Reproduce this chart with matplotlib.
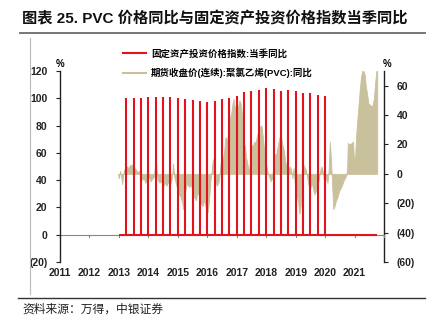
import matplotlib
matplotlib.use("Agg")
import matplotlib.pyplot as plt
import matplotlib.transforms as mtransforms
from matplotlib.lines import Line2D

plt.rcParams['font.family'] = ['Liberation Sans', 'Noto Sans CJK SC', 'DejaVu Sans']

# fixed-asset investment price index, YoY by quarter (previous year = 100)
fai_years = [2013] * 4 + [2014] * 4 + [2015] * 4 + [2016] * 4 + [2017] * 4 + [2018] * 4 + [2019] * 4
fai_quarters = [1, 2, 3, 4] * 7
fai_values = [100.4, 100.0, 100.4, 101.2, 101.2, 100.7, 100.7, 100.0,
              99.5, 98.5, 98.0, 97.3, 97.8, 99.5, 100.2, 101.7,
              104.6, 105.1, 106.1, 107.6, 106.6, 105.4, 105.9, 105.1,
              103.9, 103.6, 102.4, 101.5]
fai_line_start = 2013.0
fai_line_end = 2021.77

# PVC futures close (continuous), YoY %
pvc_t = [2012.97, 2013.00, 2013.04, 2013.08, 2013.11, 2013.14, 2013.18, 2013.22, 2013.27, 2013.32,
         2013.38, 2013.45, 2013.52, 2013.58, 2013.63, 2013.68, 2013.72, 2013.78, 2013.84, 2013.90,
         2013.96, 2014.02, 2014.08, 2014.14, 2014.19, 2014.22, 2014.25, 2014.28, 2014.32, 2014.38,
         2014.44, 2014.50, 2014.56, 2014.62, 2014.68, 2014.74, 2014.80, 2014.84, 2014.88, 2014.93,
         2014.98, 2015.04, 2015.10, 2015.15, 2015.18, 2015.22, 2015.27, 2015.32, 2015.38, 2015.44,
         2015.50, 2015.56, 2015.62, 2015.66, 2015.72, 2015.78, 2015.84, 2015.90, 2015.96, 2016.02,
         2016.07, 2016.11, 2016.15, 2016.19, 2016.22, 2016.27, 2016.32, 2016.38, 2016.43, 2016.47,
         2016.52, 2016.57, 2016.62, 2016.67, 2016.72, 2016.77, 2016.82, 2016.86, 2016.89, 2016.93,
         2016.97, 2017.01, 2017.05, 2017.09, 2017.13, 2017.17, 2017.20, 2017.24, 2017.28, 2017.32,
         2017.37, 2017.42, 2017.46, 2017.50, 2017.54, 2017.59, 2017.64, 2017.69, 2017.74, 2017.79,
         2017.84, 2017.88, 2017.92, 2017.96, 2018.00, 2018.05, 2018.10, 2018.15, 2018.20, 2018.25,
         2018.30, 2018.35, 2018.40, 2018.45, 2018.50, 2018.55, 2018.60, 2018.65, 2018.70, 2018.75,
         2018.80, 2018.85, 2018.89, 2018.93, 2018.97, 2019.01, 2019.05, 2019.09, 2019.13, 2019.17,
         2019.21, 2019.25, 2019.29, 2019.34, 2019.39, 2019.44, 2019.49, 2019.54, 2019.58, 2019.63,
         2019.68, 2019.73, 2019.78, 2019.83, 2019.87, 2019.91, 2019.95, 2019.99, 2020.03, 2020.08,
         2020.12, 2020.16, 2020.20, 2020.24, 2020.28, 2020.32, 2020.37, 2020.42, 2020.47, 2020.52,
         2020.57, 2020.62, 2020.67, 2020.72, 2020.75, 2020.77, 2020.84, 2020.90, 2020.95, 2020.98,
         2021.02, 2021.06, 2021.10, 2021.14, 2021.18, 2021.22, 2021.26, 2021.30, 2021.34, 2021.38,
         2021.42, 2021.47, 2021.52, 2021.57, 2021.62, 2021.66, 2021.70, 2021.74, 2021.77]
pvc_v = [0, -3, 2, -2, -7, -1, 3, 2, 5, 4,
         6, 6, 4, 3, 1, 2, -2, -4, -3, -6,
         -4, -2, -5, -3, -2, 5, 12, 2, -4, -6,
         -5, -9, -6, -8, -5, -7, -3, 7, -2, -6,
         -10, -14, -16, -20, -24, -16, -10, -6, -9, -7,
         -12, -16, -18, -12, -15, -20, -22, -18, -24, -26,
         -15, -4, 2, 10, 3, -4, -8, -6, 2, 10,
         8, 15, 25, 22, 30, 38, 42, 48, 51, 44,
         47, 44, 46, 50, 48, 42, 30, 22, 18, 11,
         6, 2, 8, 20, 18, 22, 21, 26, 30, 32,
         33, 26, 18, 10, 6, 1, -2, -5, -3, 6,
         13, 14, 20, 25, 26, 20, 16, 8, 4, 2,
         5, 3, -3, 4, -6, -12, -16, -20, -27, -22,
         2, 7, 5, 3, -2, -8, -10, -6, -9, -14,
         -12, -10, -4, 2, 5, 3, -3, -5, -3, -6,
         2, 22, 10, -8, -24, -22, -18, -16, -12, -10,
         -8, -5, -3, -1, 4, 21, 20, 21, 22, 9,
         12, 28, 38, 48, 58, 66, 70, 70, 68, 60,
         55, 48, 47, 46, 47, 52, 62, 70, 70]

year_labels = list(range(2011, 2022))

red = '#E2131C'
tan = '#C9C09C'

fig = plt.figure(figsize=(4.35, 3.32), dpi=100)
ax = fig.add_axes([60 / 435, 1 - 262 / 332, 324 / 435, 191 / 332])
ax2 = ax.twinx()
ax.set_zorder(ax2.get_zorder() + 1)
ax.patch.set_visible(False)

# PVC area on the right axis
ax2.fill_between(pvc_t, 0, pvc_v, color=tan, linewidth=0.6, edgecolor=tan)
ax2.set_ylim(-60, 70)
ax2.set_yticks(range(-60, 61, 20))
ax2.set_yticklabels([f'({-v})' if v < 0 else str(v) for v in range(-60, 61, 20)])

# quarterly index drawn as spikes on the left axis
fai_x = [y + q / 4 for y, q in zip(fai_years, fai_quarters)]
ax.axhline(0, color='#888888', linewidth=0.8, zorder=1)
ax.hlines(0, fai_line_start, fai_line_end, color=red, linewidth=1.5, zorder=3)
ax.vlines(fai_x, 0, fai_values, color=red, linewidth=1.5, zorder=3)
ax.set_ylim(-20, 120)
ax.set_yticks(range(-20, 121, 20))
ax.set_yticklabels([f'({-v})' if v < 0 else str(v) for v in range(-20, 121, 20)])
ax.set_xlim(2011, 2022)

# small year ticks on the zero line, labels along the bottom
blend = mtransforms.blended_transform_factory(ax.transData, ax.transAxes)
for yr in year_labels + [2022]:
    ax.plot([yr, yr], [0, -1.6], color='#888888', linewidth=0.8, clip_on=False, zorder=1)
for yr in year_labels:
    ax.text(yr, -0.055, str(yr), transform=blend, ha='center', va='center',
            fontsize=7.5, fontweight='bold', color='#222222')
ax.set_xticks([])

for a in (ax, ax2):
    for s in ('top', 'bottom'):
        a.spines[s].set_visible(False)
    a.tick_params(axis='y', length=3, width=0.8, labelsize=7.5, colors='#222222', pad=6)
    for lab in a.get_yticklabels():
        lab.set_fontweight('bold')
ax.spines['right'].set_visible(False)
ax2.spines['left'].set_visible(False)
ax.spines['left'].set_linewidth(1.0)
ax2.spines['right'].set_linewidth(1.0)
ax.spines['left'].set_color('#222222')
ax2.spines['right'].set_color('#222222')

ax.text(0, 1.01, '%', transform=ax.transAxes, ha='center', va='bottom', fontsize=7, fontweight='bold')
ax.text(1.01, 1.01, '%', transform=ax.transAxes, ha='center', va='bottom', fontsize=7, fontweight='bold')

handles = [Line2D([], [], color=red, linewidth=1.5), Line2D([], [], color=tan, linewidth=1.5)]
labels = ['固定资产投资价格指数:当季同比', '期货收盘价(连续):聚氯乙烯(PVC):同比']
fig.legend(handles, labels, loc='upper left', bbox_to_anchor=(115 / 435, 1 - 40 / 332),
           frameon=False, handlelength=2.4, handletextpad=0.5, labelspacing=1.0,
           prop={'weight': 'bold', 'size': 6.8})

# title, rules and source
fig.text(22 / 435, 1 - 18 / 332, '图表 25. PVC 价格同比与固定资产投资价格指数当季同比',
         fontsize=11, fontweight='bold', va='center', ha='left', color='#111111')
fig.add_artist(Line2D([20 / 435, 425 / 435], [1 - 33 / 332] * 2, color='#777777', linewidth=1.4))
fig.add_artist(Line2D([30 / 435, 30 / 435], [1 - 38 / 332, 1 - 294 / 332], color='#bbbbbb', linewidth=0.8))
fig.add_artist(Line2D([18 / 435, 425 / 435], [1 - 298 / 332] * 2, color='#333333', linewidth=1.0))
fig.text(22 / 435, 1 - 310 / 332, '资料来源：万得，中银证券', fontsize=8.5, va='center', ha='left',
         color='#222222', style='italic')

fig.savefig('out.png', dpi=100)
